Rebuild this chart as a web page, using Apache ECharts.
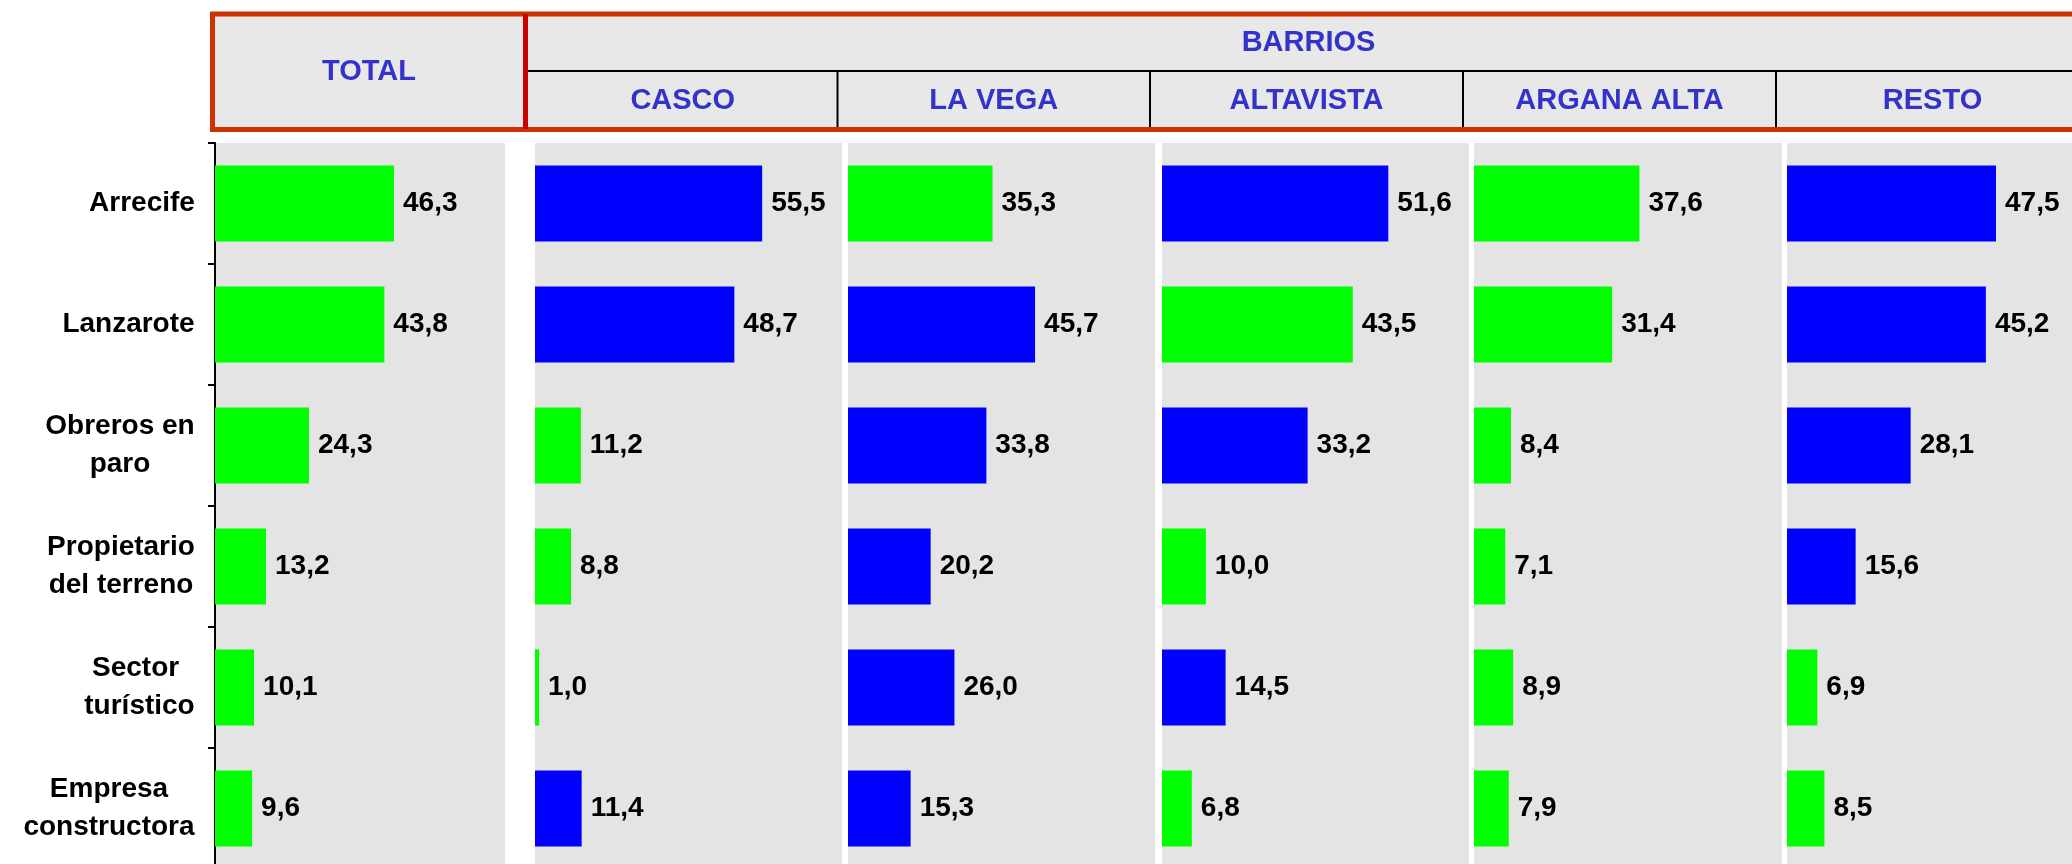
<!DOCTYPE html>
<html>
<head>
<meta charset="utf-8">
<script src="https://cdn.jsdelivr.net/npm/echarts@6/dist/echarts.min.js"></script>
<style>
  html, body { margin: 0; padding: 0; background: #fff; }
  #chart { width: 2072px; height: 864px; }
</style>
</head>
<body>
<div id="chart"></div>
<script>
// datos
const categories = ['Arrecife', 'Lanzarote', 'Obreros en\nparo', 'Propietario\ndel terreno', 'Sector \nturístico', 'Empresa\nconstructora']
const columnTitles = ['TOTAL', 'CASCO', 'LA VEGA', 'ALTAVISTA', 'ARGANA ALTA', 'RESTO']
const groupTitle = 'BARRIOS'
const total = [46.3, 43.8, 24.3, 13.2, 10.1, 9.6]
const casco = [55.5, 48.7, 11.2, 8.8, 1.0, 11.4]
const laVega = [35.3, 45.7, 33.8, 20.2, 26.0, 15.3]
const altavista = [51.6, 43.5, 33.2, 10.0, 14.5, 6.8]
const arganaAlta = [37.6, 31.4, 8.4, 7.1, 8.9, 7.9]
const resto = [47.5, 45.2, 28.1, 15.6, 6.9, 8.5]
const axisMax = [75, 75, 75, 70, 70, 70]

const FONT = '"Liberation Sans", Arial, sans-serif'
const GREEN = '#00ff00'
const BLUE = '#0000ff'
const HEAD_BLUE = '#3333cc'

const seriesData = [total, casco, laVega, altavista, arganaAlta, resto]
// paneles: izquierda y ancho en px
const panels = [
  { left: 215, width: 290 },
  { left: 535, width: 307 },
  { left: 848, width: 307 },
  { left: 1162, width: 307 },
  { left: 1474, width: 308 },
  { left: 1787, width: 308 }
]
const gridTop = 143
const gridHeight = 726

// medir etiquetas para centrar las lineas dentro del bloque
const ctx = document.createElement('canvas').getContext('2d')
ctx.font = 'bold 28px ' + FONT
const rich = {}
categories.forEach((c, i) => {
  const w = Math.max(...c.split('\n').map(s => ctx.measureText(s).width))
  rich['c' + i] = {
    width: Math.ceil(w),
    align: 'center',
    fontSize: 28,
    fontWeight: 'bold',
    fontFamily: FONT,
    lineHeight: 38,
    color: '#000'
  }
})

const fmt = v => v.toFixed(1).replace('.', ',')

let myChart = echarts.init(document.getElementById('chart'), null, { width: 2072, height: 864 })

const grids = panels.map(p => ({
  left: p.left,
  width: p.width,
  top: gridTop,
  height: gridHeight,
  outerBoundsMode: 'none',
  containLabel: false,
  show: true,
  backgroundColor: '#e4e4e4',
  borderWidth: 0
}))

const xAxes = panels.map((p, i) => ({
  type: 'value',
  gridIndex: i,
  min: 0,
  max: axisMax[i],
  show: false
}))

const yAxes = panels.map((p, i) => ({
  type: 'category',
  gridIndex: i,
  data: categories,
  inverse: true,
  show: i === 0,
  axisLine: { show: i === 0, lineStyle: { color: '#000', width: 2 } },
  axisTick: { show: i === 0, length: 7, lineStyle: { color: '#000', width: 2 } },
  axisLabel: {
    show: i === 0,
    margin: 20,
    align: 'right',
    formatter: (value, idx) => value.split('\n').map(s => '{c' + idx + '|' + s + '}').join('\n'),
    rich: rich
  }
}))

const series = seriesData.map((arr, i) => ({
  type: 'bar',
  xAxisIndex: i,
  yAxisIndex: i,
  barCategoryGap: '37%',
  data: arr.map((v, k) => ({
    value: v,
    itemStyle: { color: i > 0 && v > total[k] ? BLUE : GREEN }
  })),
  label: {
    show: true,
    position: 'right',
    distance: 9,
    fontSize: 28,
    fontWeight: 'bold',
    fontFamily: FONT,
    color: '#000',
    formatter: p => fmt(p.value)
  }
}))

// cabecera
const colEdges = [528, 837.5, 1150, 1463, 1776, 2089]
const headStyle = { fill: HEAD_BLUE, font: 'bold 29px ' + FONT, align: 'center', verticalAlign: 'middle' }
const graphic = [
  { type: 'rect', shape: { x: 212.5, y: 14, width: 1880, height: 115.5 }, style: { fill: '#e8e8e8', stroke: '#cc3300', lineWidth: 5 }, z: 10 },
  { type: 'line', shape: { x1: 525.5, y1: 14, x2: 525.5, y2: 129 }, style: { stroke: '#cc0000', lineWidth: 5 }, z: 11 },
  { type: 'line', shape: { x1: 528, y1: 71, x2: 2072, y2: 71 }, style: { stroke: '#000', lineWidth: 2 }, z: 11 },
  { type: 'text', x: 369, y: 72, style: Object.assign({ text: columnTitles[0] }, headStyle), z: 12 },
  { type: 'text', x: (colEdges[0] + colEdges[5]) / 2, y: 43, style: Object.assign({ text: groupTitle }, headStyle), z: 12 }
]
for (let k = 1; k < 5; k++) {
  graphic.push({ type: 'line', shape: { x1: colEdges[k], y1: 71, x2: colEdges[k], y2: 127 }, style: { stroke: '#000', lineWidth: 2 }, z: 11 })
}
for (let k = 1; k < columnTitles.length; k++) {
  graphic.push({
    type: 'text',
    x: (colEdges[k - 1] + colEdges[k]) / 2,
    y: 101,
    style: Object.assign({ text: columnTitles[k] }, headStyle),
    z: 12
  })
}

let option = {
  animation: false,
  backgroundColor: '#fff',
  grid: grids,
  xAxis: xAxes,
  yAxis: yAxes,
  series: series,
  graphic: graphic
}
myChart.setOption(option)
</script>
</body>
</html>
